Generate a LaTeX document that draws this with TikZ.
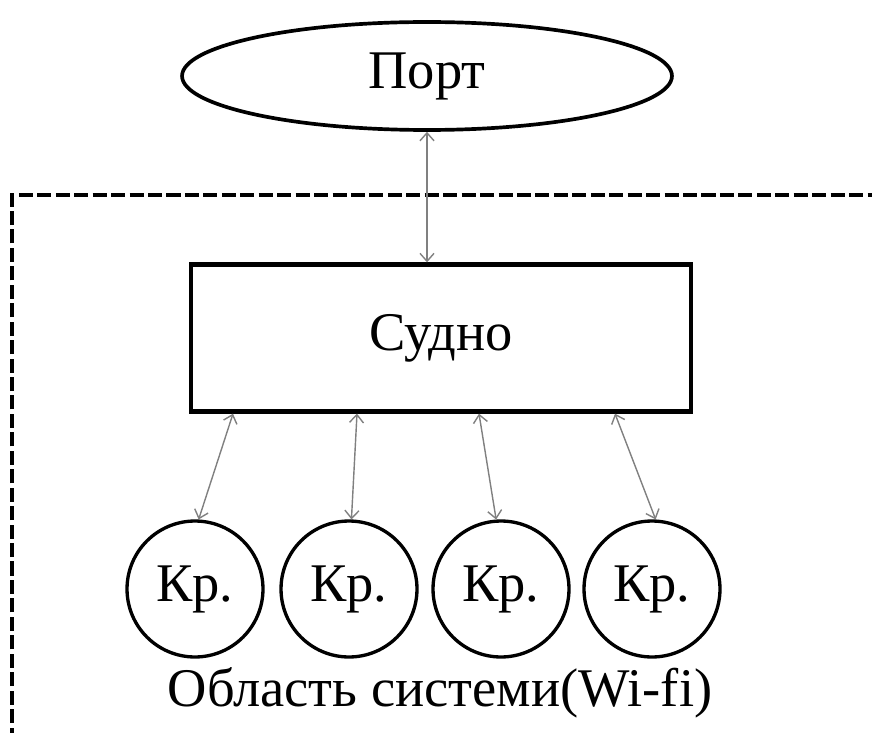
\documentclass[tikz,border=0pt]{standalone}
\usepackage{fontspec}
\setmainfont{Liberation Serif}
\usetikzlibrary{arrows.meta,calc,shapes.geometric}

\begin{document}
\begin{tikzpicture}[
    x=0.02cm, y=-0.02cm,
    >={Straight Barb[length=4.5pt,width=8pt]},
    port/.style={ellipse, draw=black, line width=2.1pt, minimum width=9.8cm, minimum height=2.16cm, inner sep=0pt, font=\fontsize{31}{36}\selectfont},
    ship/.style={rectangle, draw=black, line width=2.5pt, minimum width=10cm, minimum height=2.94cm, inner sep=0pt, font=\fontsize{31}{36}\selectfont},
    crane/.style={circle, draw=black, line width=1.9pt, minimum size=2.72cm, inner sep=0pt, font=\fontsize{31}{36}\selectfont},
    link/.style={<->, draw=gray, line width=0.8pt},
    area/.style={draw=black, line width=2.2pt, dash pattern=on 8pt off 2.5pt},
    note/.style={font=\fontsize{31}{36}\selectfont}
]
    \clip (0,0) rectangle (872,733);

    % system area
    \draw[area] (12,760) -- (12,195) -- (900,195);

    \node[port] (port) at (427,76) {Порт};
    \node[ship] (ship) at (441,338) {Судно};
    \node[crane] (k1) at (195,589) {Кр.};
    \node[crane] (k2) at (349,589) {Кр.};
    \node[crane] (k3) at (501,589) {Кр.};
    \node[crane] (k4) at (652,589) {Кр.};
    \node[note] (label) at (440,693) {Область системи(Wi-fi)};

    \draw[link] (port.south) -- (port.south |- ship.north);
    \draw[link] ($(ship.south)+(-208,0)$) -- (k1.87);
    \draw[link] ($(ship.south)+(-84,0)$) -- (k2.88);
    \draw[link] ($(ship.south)+(38,0)$) -- (k3.94);
    \draw[link] ($(ship.south)+(174,0)$) -- (k4.87);
\end{tikzpicture}
\end{document}
